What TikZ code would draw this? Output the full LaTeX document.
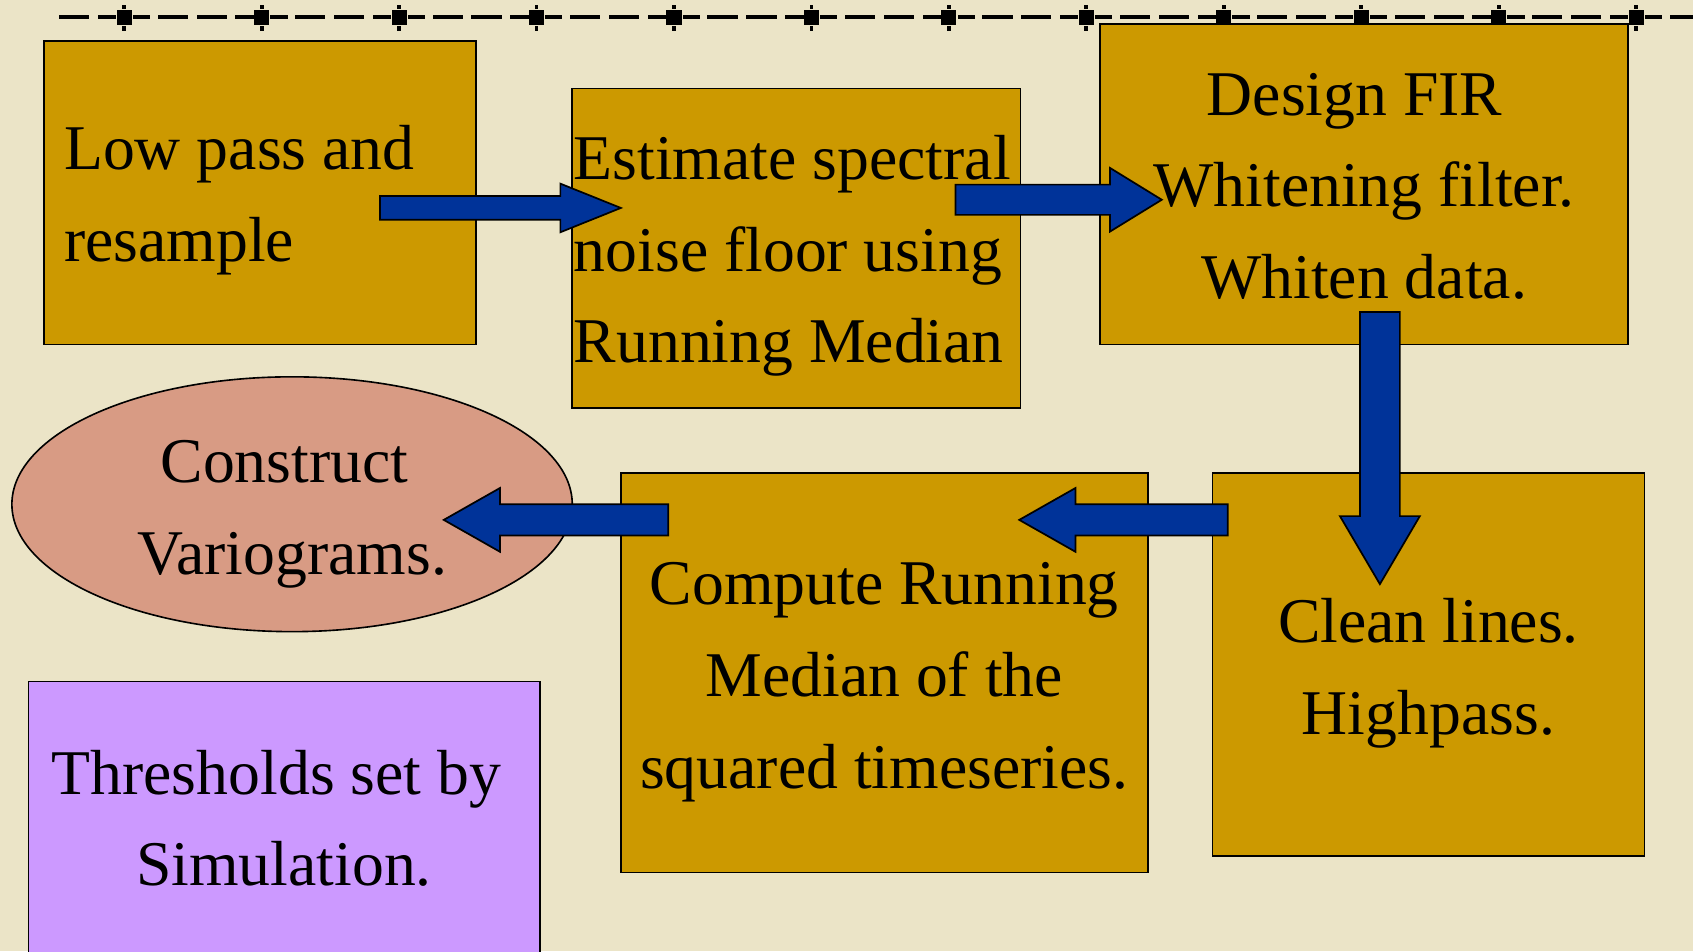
\documentclass[tikz,border=0pt]{standalone}
\usepackage{fontspec}
\setmainfont{Liberation Serif}
\usetikzlibrary{calc,shapes.geometric}
\definecolor{bgc}{HTML}{EBE4C7}
\definecolor{gold}{HTML}{CC9900}
\definecolor{salmon}{HTML}{D89B84}
\definecolor{lilac}{HTML}{CC99FF}
\definecolor{arrowblue}{HTML}{003399}
\tikzset{
  goldbox/.style={draw=black, line width=1.5pt, fill=gold, inner sep=0pt},
  ovalbox/.style={ellipse, draw=black, line width=1.5pt, fill=salmon, inner sep=0pt},
  lilacbox/.style={draw=black, line width=1.5pt, fill=lilac, inner sep=0pt},
  txt/.style={inner sep=0pt, font=\fontsize{59}{85}\selectfont, text=black},
  blockarrow/.style={draw=black, line width=1.6pt, fill=arrowblue, line join=miter},
}
% #1 start, #2 tip, #3 shaft half width, #4 head half width, #5 head length
\newcommand\blockarr[5]{%
  \coordinate (hb) at ($(#2)!#5!(#1)$);
  \draw[blockarrow] ($(#1)!#3!90:(#2)$) -- ($(hb)!#3!90:(#2)$) -- ($(hb)!#4!90:(#2)$)
     -- (#2) -- ($(hb)!#4!-90:(#2)$) -- ($(hb)!#3!-90:(#2)$) -- ($(#1)!#3!-90:(#2)$) -- cycle;
}
\begin{document}
\begin{tikzpicture}[x=1pt,y=-1pt]
\fill[bgc] (0,0) rectangle (1568,881);
\useasboundingbox (0,0) rectangle (1568,881);

% top dashed rule with markers
\begin{scope}
\clip (54,0) rectangle (1568,40);
\foreach \i in {-1,...,11}{
  \pgfmathsetmacro\m{115+127.3*\i}
  \fill ({\m+8},14.15) rectangle ({\m+24},17.85);
  \fill ({\m+31},14.15) rectangle ({\m+59},17.85);
  \fill ({\m+67},14.15) rectangle ({\m+95},17.85);
  \fill ({\m+103},14.15) rectangle ({\m+120},17.85);
}
\foreach \i in {0,...,11}{
  \pgfmathsetmacro\m{115+127.3*\i}
  \fill ({\m-7},9) rectangle ({\m+7},23);
  \fill ({\m-1.75},4.6) rectangle ({\m+1.75},8.3);
  \fill ({\m-1.75},24.5) rectangle ({\m+1.75},28.5);
}
\end{scope}

% shapes
\node[goldbox, minimum width=400pt, minimum height=281pt] (b1) at (241,178.5) {};
\node[goldbox, minimum width=415pt, minimum height=296pt] (b2) at (737.5,230) {};
\node[goldbox, minimum width=489pt, minimum height=297pt] (b3) at (1263.5,170.5) {};
\node[goldbox, minimum width=400pt, minimum height=355pt] (b4) at (1323,615.5) {};
\node[goldbox, minimum width=488pt, minimum height=370pt] (b5) at (819,623) {};
\node[ovalbox, minimum width=519pt, minimum height=236pt] (e1) at (270.5,467) {};
\node[lilacbox, minimum width=473.5pt, minimum height=290pt] (p1) at (263.25,776) {};

% block arrows
\coordinate (a1s) at (352,192.6);  \coordinate (a1t) at (575,192.6);
\coordinate (a2s) at (885,185);    \coordinate (a2t) at (1076,185);
\coordinate (a3s) at (1278,289);   \coordinate (a3t) at (1278,541);
\coordinate (a4s) at (1137,481.5); \coordinate (a4t) at (944,481.5);
\coordinate (a5s) at (619,481.5);  \coordinate (a5t) at (411,481.5);
\blockarr{a1s}{a1t}{11pt}{22.5pt}{56pt}
\blockarr{a2s}{a2t}{14pt}{29.5pt}{48pt}
\blockarr{a3s}{a3t}{18.5pt}{37pt}{63pt}
\blockarr{a4s}{a4t}{14.5pt}{29.5pt}{52pt}
\blockarr{a5s}{a5t}{14.5pt}{29.5pt}{52pt}

% texts
\node[txt, align=left, anchor=west] (t1) at ($(b1.west)+(19,7)$) {Low pass and\\resample};
\node[txt, align=left, anchor=west] (t2) at ($(b2.west)+(2,7)$) {Estimate spectral\\noise floor using\\Running Median};
\node[txt, align=center] (t3) at ($(b3.center)+(0,2)$) {Design FIR\hspace*{18pt}\\Whitening filter.\\Whiten data.};
\node[txt, align=center] (t4) at ($(b4.center)+(0,8)$) {Clean lines.\\Highpass.};
\node[txt, align=center] (t5) at ($(b5.center)+(0,9)$) {Compute Running\\Median of the\hspace*{15pt}\\squared timeseries.};
\node[txt, align=center] (t6) at ($(e1.center)+(0,9)$) {Construct\hspace*{14pt}\\Variograms.};
\node[txt, align=center] (t7) at (263,758) {Thresholds set by\hspace*{14pt}\\Simulation.};
\end{tikzpicture}
\end{document}
